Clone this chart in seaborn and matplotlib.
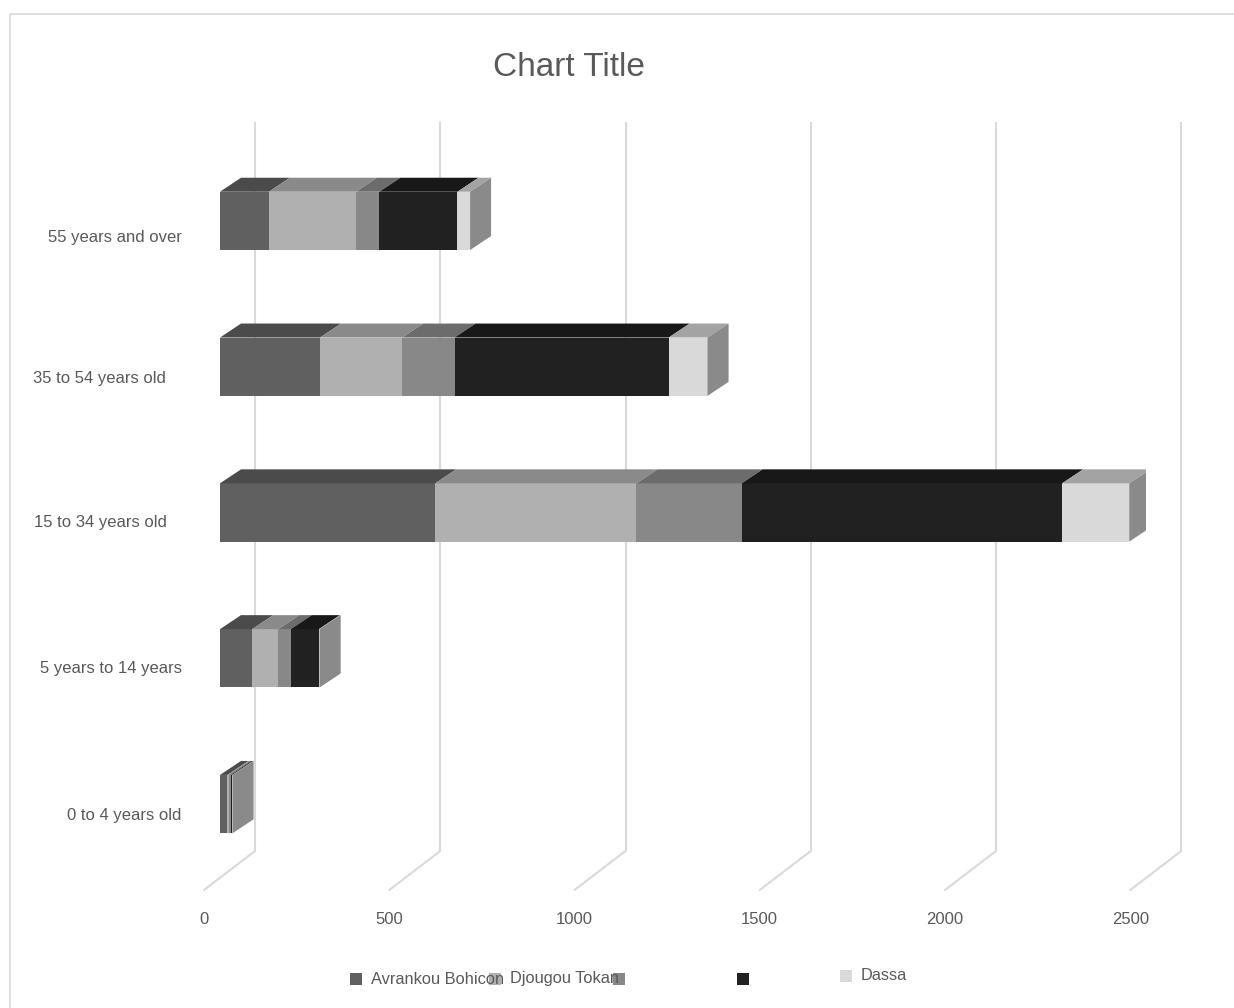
import numpy as np
import pandas as pd
import seaborn as sns
import matplotlib
matplotlib.use("Agg")
import matplotlib.pyplot as plt
from matplotlib.patches import Polygon, Rectangle
from matplotlib.transforms import offset_copy, ScaledTranslation

# ---------------- data ----------------
categories = ["55 years and over", "35 to 54 years old", "15 to 34 years old",
              "5 years to 14 years", "0 to 4 years old"]
series_names = ["Avrankou Bohicon", "Djougou Tokan", "", "", "Dassa"]
s1 = [132, 270, 581, 87, 20]
s2 = [235, 222, 543, 70, 4]
s3 = [63, 141, 284, 34, 5]
s4 = [211, 578, 865, 76, 4]
s5 = [34, 105, 181, 2, 1]
x_ticks = [0, 500, 1000, 1500, 2000, 2500]
title = "Chart Title"

front_colors = ["#606060", "#b0b0b0", "#888888", "#212121", "#d9d9d9"]
top_colors = ["#4b4b4b", "#8a8a8a", "#6c6c6c", "#181818", "#a3a3a3"]
side_color = "#8a8a8a"
grid_color = "#d9d9d9"
text_color = "#595959"

# ---------------- style ----------------
sns.set_theme(style="white")
plt.rcParams["font.family"] = ["Liberation Sans", "DejaVu Sans"]

W, H = 1234, 1008
fig = plt.figure(figsize=(W / 100, H / 100), dpi=100)

def fx(px):
    return px / W

def fy(py):
    return 1 - py / H

# axes in the plane of the bars' front faces
ax_left, ax_right = 220, 220 + 2500 * 0.3705
ax_top, ax_bot = 148, 877
ax = fig.add_axes([fx(ax_left), fy(ax_bot), (ax_right - ax_left) / W, (ax_bot - ax_top) / H])
ax.set_facecolor("none")

series = [s1, s2, s3, s4, s5]
df = pd.DataFrame({"category": categories})
for i, s in enumerate(series):
    df[f"s{i}"] = s
cum = np.cumsum(np.array(series), axis=0)
for i in range(len(series)):
    df[f"c{i}"] = cum[i]

bar_w = 0.4
# stacked bars: draw cumulative totals from largest to smallest
for i in reversed(range(len(series))):
    sns.barplot(data=df, x=f"c{i}", y="category", order=categories, orient="h",
                color=front_colors[i], saturation=1, width=bar_w, errorbar=None,
                linewidth=0, ax=ax, zorder=3)

ax.set_xlim(0, 2500)
ax.set_ylim(len(categories) - 0.5, -0.5)

# depth offsets (pixels -> data units)
p0 = ax.transData.transform((0, 0))
dxd, dyd = ax.transData.inverted().transform(p0 + np.array([21, 14]))

for j, cat in enumerate(categories):
    ytop = j - bar_w / 2
    ybot = j + bar_w / 2
    left = 0
    for i in range(len(series)):
        right = cum[i][j]
        poly = Polygon([(left, ytop), (right, ytop), (right + dxd, ytop + dyd), (left + dxd, ytop + dyd)],
                       closed=True, facecolor=top_colors[i], edgecolor="none", zorder=3)
        ax.add_patch(poly)
        left = right
    total = cum[-1][j]
    side = Polygon([(total, ytop), (total, ybot), (total + dxd, ybot + dyd), (total + dxd, ytop + dyd)],
                   closed=True, facecolor=side_color, edgecolor="none", zorder=3)
    ax.add_patch(side)

# gridlines: back wall verticals + floor diagonals
back_tr = offset_copy(ax.transData, fig=fig, x=35, y=26, units="dots")
front_tr = offset_copy(ax.transData, fig=fig, x=-16, y=-13, units="dots")
ymax = len(categories) - 0.5
for v in x_ticks:
    ax.plot([v, v], [ymax, -0.5], color=grid_color, lw=1.5, transform=back_tr,
            zorder=1, clip_on=False, solid_capstyle="butt")
    ax.annotate("", xy=(v, ymax), xycoords=front_tr, xytext=(v, ymax), textcoords=back_tr,
                arrowprops=dict(arrowstyle="-", color=grid_color, lw=1.5, shrinkA=0, shrinkB=0),
                zorder=1, annotation_clip=False)

for sp in ax.spines.values():
    sp.set_visible(False)
ax.grid(False)
ax.set_xlabel("")
ax.set_ylabel("")

# x tick labels on the front plane
ax.set_xticks(x_ticks)
ax.set_xticklabels([str(t) for t in x_ticks])
ax.tick_params(axis="x", length=0, pad=25, labelsize=12, labelcolor=text_color)
for lab in ax.get_xticklabels():
    lab.set_transform(lab.get_transform() + ScaledTranslation(-16 / 100, 0, fig.dpi_scale_trans))

# y tick labels
ax.set_yticks(range(len(categories)))
ax.set_yticklabels(categories)
ax.tick_params(axis="y", length=0, pad=0, labelsize=12, labelcolor=text_color)
label_right = [182, 166, 167, 182, 181]
label_dy = [15, 10, 9, 9, 10]
for lab, r, d in zip(ax.get_yticklabels(), label_right, label_dy):
    lab.set_transform(lab.get_transform() + ScaledTranslation((r - ax_left) / 100, -d / 100, fig.dpi_scale_trans))

# title
fig.text(fx(569), fy(67), title, ha="center", va="center", fontsize=24, color=text_color)

# legend (Excel-like, labels overlapping as in the original)
leg_marker_x = [350, 489, 613, 737, 840]
leg_y = [979, 979, 979, 979, 976]
for i, name in enumerate(series_names):
    mx, my = leg_marker_x[i], leg_y[i]
    fig.patches.append(Rectangle((fx(mx), fy(my + 6)), 12 / W, 12 / H, transform=fig.transFigure,
                                 facecolor=front_colors[i], edgecolor="none", zorder=3))
    if name:
        fig.text(fx(mx + 21), fy(my), name, ha="left", va="center", fontsize=11.8,
                 color=text_color, zorder=6)

# outer chart border
fig.patches.append(Rectangle((fx(10), -0.05), 1.2, fy(14) + 0.05, transform=fig.transFigure,
                             fill=False, edgecolor="#d9d9d9", lw=1.2, zorder=0))

fig.savefig("out.png", dpi=100, facecolor="white")
